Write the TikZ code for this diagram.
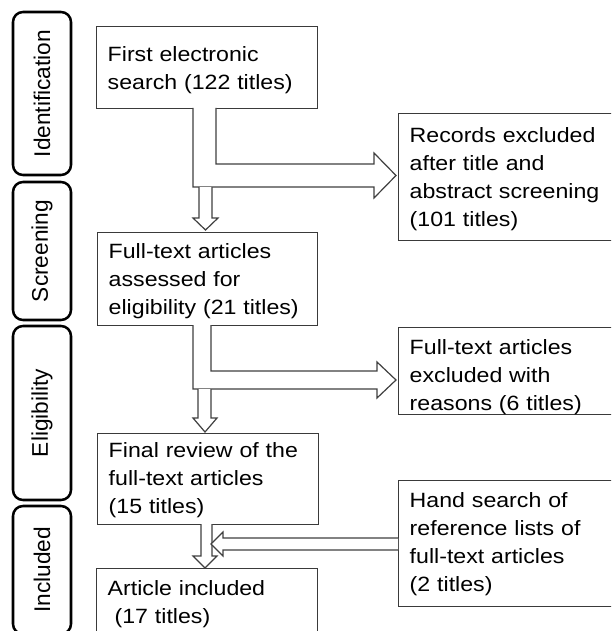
\documentclass[tikz,border=0pt]{standalone}
\usepackage{fontspec}
\setmainfont{Liberation Sans}
\newfontfamily\boxfont[FakeStretch=1.12]{Liberation Sans}
\definecolor{boxline}{HTML}{3A3A3A}
\definecolor{arrowline}{HTML}{404040}
\definecolor{txt}{HTML}{000000}
\begin{document}
\begin{tikzpicture}[x=0.75pt,y=-0.75pt,
  box/.style={draw=boxline, line width=1.1pt, fill=white, anchor=north west,
    inner xsep=8.25pt, inner ysep=0pt, align=left,
    font=\boxfont\fontsize{15.5pt}{21pt}\selectfont, text=txt},
  side/.style={draw=black, line width=1.9pt, rounded corners=7.5pt, rotate=90,
    minimum height=43.5pt, inner sep=0pt,
    font=\fontsize{17pt}{20pt}\selectfont, text=txt},
  blockarrow/.style={draw=arrowline, line width=0.9pt, fill=white, line join=miter}]
\useasboundingbox (0,0) rectangle (611,631);
\fill[white] (0,0) rectangle (611,631);
\clip (0,0) rectangle (611,631);

% stage labels
\node[side, minimum width=122.25pt] (s1) at (42,93.5) {Identification};
\node[side, minimum width=103.5pt] (s2) at (42,251) {Screening};
\node[side, minimum width=130.5pt] (s3) at (42,413) {Eligibility};
\node[side, minimum width=96pt] (s4) at (42,570) {Included};

% main column
\node[box, text width=149.25pt, text height=26.25pt, text depth=35.25pt] (b1) at (96,26)
  {First electronic\\search (122 titles)};
\node[box, text width=148.5pt, text height=19.5pt, text depth=50.25pt] (b2) at (97,232)
  {Full-text articles\\assessed for\\eligibility (21 titles)};
\node[box, text width=149.25pt, text height=18pt, text depth=50.25pt] (b3) at (97,433)
  {Final review of the\\full-text articles\\(15 titles)};
\node[box, text width=149.25pt, text height=20.25pt, text depth=48.75pt] (b4) at (96,568)
  {Article included\\\ (17 titles)};

% right column
\node[box, text width=171pt, text height=21.75pt, text depth=73.5pt] (r1) at (398,113)
  {Records excluded\\after title and\\abstract screening\\(101 titles)};
\node[box, text width=171pt, text height=20.25pt, text depth=45pt] (r2) at (398,327)
  {Full-text articles\\excluded with\\reasons (6 titles)};
\node[box, text width=171pt, text height=20.25pt, text depth=74.25pt] (r3) at (398,480)
  {Hand search of\\reference lists of\\full-text articles\\(2 titles)};

% block arrows: b1 -> r1 and down to b2
\path[blockarrow] (193,108) -- (193,187) -- (374,187) -- (374,198) -- (396,175.5)
  -- (374,153) -- (374,164) -- (216,164) -- (216,108);
\path[blockarrow] (199,187) -- (199,218) -- (193,218) -- (205.5,230) -- (218,218)
  -- (212,218) -- (212,187);

% b2 -> r2 and down to b3
\path[blockarrow] (193,325) -- (193,389) -- (377,389) -- (377,398) -- (396,380)
  -- (377,362) -- (377,371) -- (211,371) -- (211,325);
\path[blockarrow] (198,389) -- (198,418) -- (193,418) -- (205,432) -- (217,418)
  -- (211,418) -- (211,389);

% b3 -> b4 and r3 -> into it
\path[blockarrow] (201,524) -- (201,556) -- (193,556) -- (205,568) -- (217,556)
  -- (212,556) -- (212,524);
\path[blockarrow] (398,538) -- (223,538) -- (223,532) -- (211,544) -- (223,556)
  -- (223,550) -- (398,550);
\end{tikzpicture}
\end{document}
